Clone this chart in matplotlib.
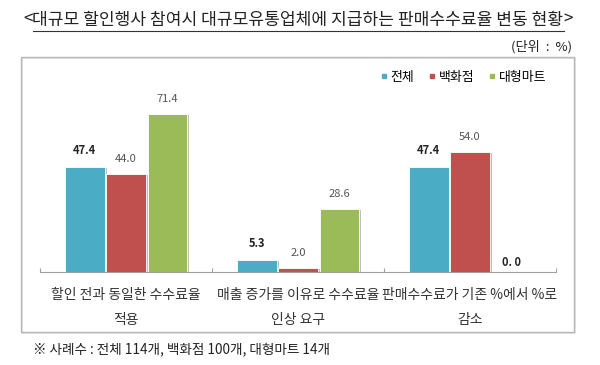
import numpy as np
import matplotlib.pyplot as plt
import matplotlib.patheffects as pe
from matplotlib.patches import Rectangle
from matplotlib.lines import Line2D

plt.rcParams['font.family'] = ['Noto Sans CJK KR', 'DejaVu Sans']

categories = ["할인 전과 동일한 수수료율\n적용",
              "매출 증가를 이유로 수수료율\n인상 요구",
              "판매수수료가 기존 %에서 %로\n감소"]
series_names = ["전체", "백화점", "대형마트"]
total = [47.4, 5.3, 47.4]
dept_store = [44.0, 2.0, 54.0]
hypermart = [71.4, 28.6, 0.0]
colors = ["#4BACC6", "#C0504D", "#9BBB59"]

fig = plt.figure(figsize=(6, 3.65), dpi=100)

# outer chart frame (plus a faint shadow line on right/bottom)
fig.patches.append(Rectangle((22 / 600, 1 - 333 / 365), (575 - 22) / 600,
                             (333 - 58) / 365, transform=fig.transFigure,
                             fill=False, edgecolor="#E2E2E2", lw=1.2, zorder=-2))
fig.patches.append(Rectangle((21 / 600, 1 - 332 / 365), (574 - 21) / 600,
                             (332 - 57) / 365, transform=fig.transFigure,
                             fill=False, edgecolor="#B8B8B8", lw=1.0, zorder=-1))

ax = fig.add_axes([40 / 600, 1 - 272 / 365, (556 - 40) / 600, (272 - 90) / 365])
ax.set_facecolor("none")
x = np.arange(len(categories))
w = 0.23
off = 0.24
shadow = [pe.SimplePatchShadow(offset=(1.6, -0.8), shadow_rgbFace="#b0b0b0", alpha=0.8),
          pe.Normal()]
for k, (vals, col) in enumerate(zip([total, dept_store, hypermart], colors)):
    bars = ax.bar(x + (k - 1) * off, vals, w, color=col, edgecolor="white",
                  lw=0.6, zorder=2)
    for b in bars:
        if b.get_height() > 0:
            b.set_path_effects(shadow)
    for xi, v in zip(x, vals):
        xp = xi + (k - 1) * off
        if k == 0:
            ax.text(xp, v + 4.5, f"{v:.1f}", ha="center", va="bottom",
                    fontsize=8, fontweight="bold", color="#222222")
        elif v == 0:
            ax.text(xp, v + 1.5, "0. 0", ha="center", va="bottom",
                    fontsize=8, fontweight="bold", color="#222222")
        else:
            ax.text(xp, v + 4.5, f"{v:.1f}", ha="center", va="bottom",
                    fontsize=8, color="#555555")

ax.set_xlim(-0.5, 2.5)
ax.set_ylim(0, 82)
for s in ["top", "right", "left"]:
    ax.spines[s].set_visible(False)
ax.spines["bottom"].set_color("#A0A0A0")
ax.set_yticks([])
ax.set_xticks([-0.5, 0.5, 1.5, 2.5])
ax.set_xticklabels([])
ax.tick_params(axis="x", direction="in", length=3, color="#A0A0A0")
for xi, lab in zip(x, categories):
    ax.text(xi, -7.0, lab, ha="center", va="top", fontsize=10,
            color="#333333", linespacing=2.0)

# legend
handles = [Line2D([], [], marker="s", ms=3.5, ls="none", color=c) for c in colors]
fig.legend(handles, series_names, loc="center right",
           bbox_to_anchor=(558 / 600, 1 - 77 / 365), ncol=3, frameon=False,
           fontsize=9.3, handletextpad=0.1, columnspacing=1.0, handlelength=0.8)

# title with underline
ty = 1 - 20 / 365
fs_title = 12.3
t1 = fig.text(23 / 600, ty, "<", fontsize=fs_title, va="center", ha="left",
              color="#222222")
fig.canvas.draw()
r = fig.canvas.get_renderer()
bb = t1.get_window_extent(r)
t2 = fig.text(bb.x1 / 600, ty,
              "대규모 할인행사 참여시 대규모유통업체에 지급하는 판매수수료율 변동 현황",
              fontsize=fs_title, va="center", ha="left", color="#222222")
bb2 = t2.get_window_extent(r)
fig.text(bb2.x1 / 600, ty, ">", fontsize=fs_title, va="center", ha="left",
         color="#222222")
fig.lines.append(Line2D([bb2.x0 / 600, bb2.x1 / 600], [1 - 31 / 365, 1 - 31 / 365],
                        transform=fig.transFigure, color="#333333", lw=0.8))

fig.text(572 / 600, 1 - 47 / 365, "(단위  :  %)", fontsize=9.5, ha="right",
         va="center", color="#222222")
fig.text(33 / 600, 1 - 349 / 365, "※ 사례수 : 전체 114개, 백화점 100개, 대형마트 14개",
         fontsize=9.8, ha="left", va="center", color="#222222")

fig.savefig("out.png", dpi=100)
